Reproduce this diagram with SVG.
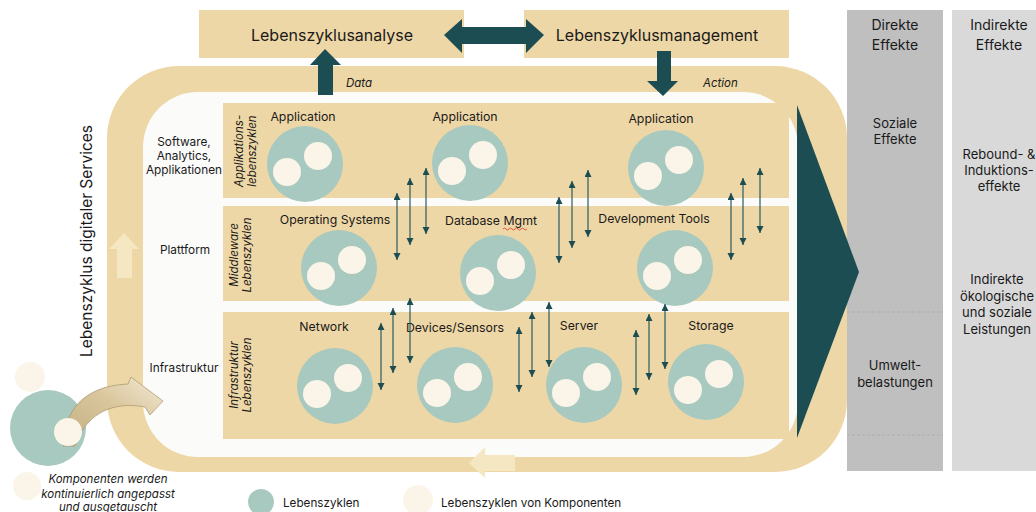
<svg xmlns="http://www.w3.org/2000/svg" width="1036" height="512" viewBox="0 0 1036 512">
  <defs>
    <style>
      text { font-family: Inter, "Noto Sans", "Liberation Sans", sans-serif; fill: #1a1a1a; }
      .beige { fill: #eed7a6; }
      .band { fill: #eed7a6; }
      .dark { fill: #1c4d52; }
      .pale { fill: #f4e7c2; }
      .big { fill: #a7c9bf; }
      .small { fill: #fbf4e8; }
      .hdr { font-size: 16px; text-anchor: middle; }
      .lbl { font-size: 12.3px; text-anchor: middle; }
      .side { font-size: 11.8px; text-anchor: middle; }
      .rot { font-size: 11.5px; font-style: italic; text-anchor: middle; }
      .ital { font-size: 11.5px; font-style: italic; }
      .colhdr { font-size: 14px; text-anchor: middle; }
      .coltxt { font-size: 13px; text-anchor: middle; }
      .legend { font-size: 11.7px; }
      .link { stroke: #2d5c60; stroke-width: 1.2; fill: none; marker-start: url(#head); marker-end: url(#head); }
    </style>
    <marker id="head" markerUnits="userSpaceOnUse" markerWidth="8" markerHeight="8" refX="7" refY="3.5" orient="auto-start-reverse">
      <path d="M0,0 L7,3.5 L0,7 z" fill="#1c4d52"/>
    </marker>
    <linearGradient id="swap" x1="0" y1="1" x2="1" y2="0">
      <stop offset="0" stop-color="#c2ad80"/>
      <stop offset="0.55" stop-color="#d9c69c"/>
      <stop offset="1" stop-color="#f3ead6"/>
    </linearGradient>
    <g id="lc">
      <circle r="38" class="big"/>
      <circle cx="13" cy="-8" r="14" class="small"/>
      <circle cx="-18" cy="8" r="14" class="small"/>
    </g>
  </defs>

  <!-- effect columns -->
  <g id="col-direct">
    <rect x="847" y="10" width="96" height="461" fill="#bfbfbf"/>
    <line x1="847" y1="312" x2="943" y2="312" stroke="#a9a9a9" stroke-width="0.8" stroke-dasharray="3 2"/>
    <line x1="847" y1="435" x2="943" y2="435" stroke="#a9a9a9" stroke-width="0.8" stroke-dasharray="3 2"/>
    <text class="colhdr" x="895" y="30">Direkte</text>
    <text class="colhdr" x="895" y="50">Effekte</text>
    <text class="coltxt" x="895" y="128">Soziale</text>
    <text class="coltxt" x="895" y="144">Effekte</text>
    <text class="coltxt" x="895" y="370">Umwelt-</text>
    <text class="coltxt" x="895" y="387">belastungen</text>
  </g>
  <g id="col-indirect">
    <rect x="952" y="10" width="84" height="461" fill="#d9d9d9"/>
    <text class="colhdr" x="999" y="30">Indirekte</text>
    <text class="colhdr" x="999" y="50">Effekte</text>
    <text class="coltxt" x="999" y="159">Rebound- &amp;</text>
    <text class="coltxt" x="999" y="175">Induktions-</text>
    <text class="coltxt" x="999" y="191">effekte</text>
    <text class="coltxt" x="997" y="284">Indirekte</text>
    <text class="coltxt" x="997" y="301">ökologische</text>
    <text class="coltxt" x="997" y="317">und soziale</text>
    <text class="coltxt" x="997" y="334">Leistungen</text>
  </g>

  <!-- lifecycle loop -->
  <g id="loop">
    <rect x="107" y="66" width="740" height="406" rx="72" class="band"/>
    <rect x="143" y="92" width="655" height="365" rx="55" fill="#fbfbfa"/>
    <path class="pale" d="M124,233 L139,249 L132,249 L132,278 L117,278 L117,249 L109,249 z"/>
    <path class="pale" d="M469,463 L485,447 L485,455 L515,455 L515,471 L485,471 L485,478 z"/>
    <text x="92" y="241" transform="rotate(-90 92 241)" style="font-size:15.5px;text-anchor:middle">Lebenszyklus digitaler Services</text>
  </g>

  <!-- top boxes -->
  <g id="analyse">
    <rect x="199" y="10" width="265" height="48" class="beige"/>
    <text class="hdr" x="332" y="41">Lebenszyklusanalyse</text>
  </g>
  <g id="management">
    <rect x="524" y="10" width="265" height="48" class="beige"/>
    <text class="hdr" x="657" y="41">Lebenszyklusmanagement</text>
  </g>

  <!-- layer rows -->
  <g id="row-app">
    <rect x="223" y="103" width="566" height="95" class="beige"/>
    <text class="rot" transform="translate(243 151) rotate(-90)">Applikations-</text>
    <text class="rot" transform="translate(256 151) rotate(-90)">lebenszyklen</text>
    <text class="lbl" x="303" y="121">Application</text>
    <text class="lbl" x="465" y="121">Application</text>
    <text class="lbl" x="661" y="123">Application</text>
    <use href="#lc" x="305" y="164"/>
    <use href="#lc" x="470" y="163"/>
    <use href="#lc" x="666" y="168"/>
  </g>
  <g id="row-mw">
    <rect x="223" y="206" width="566" height="95" class="beige"/>
    <text class="rot" transform="translate(238 255) rotate(-90)">Middleware</text>
    <text class="rot" transform="translate(251 255) rotate(-90)">Lebenszyklen</text>
    <text class="lbl" x="335" y="224">Operating Systems</text>
    <text class="lbl" x="491" y="225">Database Mgmt</text>
    <path d="M503,229 q1.5,-2 3,0 t3,0 t3,0 t3,0 t3,0 t3,0 t3,0 t3,0" fill="none" stroke="#e0322c" stroke-width="0.8"/>
    <text class="lbl" x="654" y="223">Development Tools</text>
    <use href="#lc" x="339" y="268"/>
    <use href="#lc" x="498" y="273"/>
    <use href="#lc" x="675" y="268"/>
  </g>
  <g id="row-infra">
    <rect x="223" y="312" width="566" height="127" class="beige"/>
    <text class="rot" transform="translate(238 375) rotate(-90)">Infrastruktur</text>
    <text class="rot" transform="translate(251 375) rotate(-90)">Lebenszyklen</text>
    <text class="lbl" x="324" y="331">Network</text>
    <text class="lbl" x="455" y="332">Devices/Sensors</text>
    <text class="lbl" x="579" y="330">Server</text>
    <text class="lbl" x="711" y="330">Storage</text>
    <use href="#lc" x="335" y="386"/>
    <use href="#lc" x="455" y="385"/>
    <use href="#lc" x="584" y="385"/>
    <use href="#lc" x="706" y="382"/>
  </g>

  <!-- layer names -->
  <g id="layer-names">
    <text class="side" x="184" y="146">Software,</text>
    <text class="side" x="184" y="160">Analytics,</text>
    <text class="side" x="184" y="174">Applikationen</text>
    <text class="side" x="185" y="254">Plattform</text>
    <text class="side" x="184" y="372">Infrastruktur</text>
  </g>

  <!-- connectors -->
  <g id="connectors">
    <path class="dark" d="M444,35 L462,19 L462,27 L526,27 L526,19 L544,35 L526,53 L526,44 L462,44 L462,53 z"/>
    <path class="dark" d="M325,49 L341,65 L333,65 L333,95 L318,95 L318,65 L310,65 z"/>
    <path class="dark" d="M663,96 L678,81 L671,81 L671,51 L657,51 L657,81 L647,81 z"/>
    <text class="ital" x="346" y="87">Data</text>
    <text class="ital" x="703" y="87">Action</text>
    <path class="dark" d="M797,105 L859,272 L797,438 z"/>

    <line class="link" x1="397" y1="193" x2="397" y2="260"/>
    <line class="link" x1="410" y1="178" x2="410" y2="245"/>
    <line class="link" x1="426" y1="168" x2="426" y2="234"/>
    <line class="link" x1="381" y1="323" x2="381" y2="390"/>
    <line class="link" x1="393" y1="308" x2="393" y2="373"/>
    <line class="link" x1="410" y1="298" x2="410" y2="363"/>

    <line class="link" x1="559" y1="197" x2="559" y2="263"/>
    <line class="link" x1="572" y1="181" x2="572" y2="248"/>
    <line class="link" x1="588" y1="170" x2="588" y2="237"/>
    <line class="link" x1="519" y1="327" x2="519" y2="392"/>
    <line class="link" x1="532" y1="312" x2="532" y2="377"/>
    <line class="link" x1="549" y1="302" x2="549" y2="367"/>

    <line class="link" x1="731" y1="193" x2="731" y2="260"/>
    <line class="link" x1="743" y1="178" x2="743" y2="245"/>
    <line class="link" x1="760" y1="168" x2="760" y2="233"/>
    <line class="link" x1="636" y1="330" x2="636" y2="395"/>
    <line class="link" x1="649" y1="314" x2="649" y2="380"/>
    <line class="link" x1="665" y1="304" x2="665" y2="369"/>
  </g>

  <!-- component replacement -->
  <g id="replacement">
    <circle cx="30" cy="377" r="15" class="small"/>
    <circle cx="48" cy="428" r="38" class="big"/>
    <circle cx="27" cy="486" r="14" class="small"/>
    <path d="M63,446 C64,412 82,386 128,384 L131,377 L163,401 L150,415 L145,407 C108,400 84,418 75,446 z" fill="url(#swap)" stroke="#a8946a" stroke-width="0.7"/>
    <circle cx="68" cy="432" r="14" class="small"/>
    <text class="ital" x="108" y="483" text-anchor="middle">Komponenten werden</text>
    <text class="ital" x="108" y="498" text-anchor="middle">kontinuierlich angepasst</text>
    <text class="ital" x="108" y="511" text-anchor="middle">und ausgetauscht</text>
  </g>

  <!-- legend -->
  <g id="legend">
    <circle cx="261" cy="502" r="13" class="big"/>
    <text class="legend" x="283" y="507">Lebenszyklen</text>
    <circle cx="418" cy="500" r="15" class="small"/>
    <text class="legend" x="441" y="507">Lebenszyklen von Komponenten</text>
  </g>
</svg>
